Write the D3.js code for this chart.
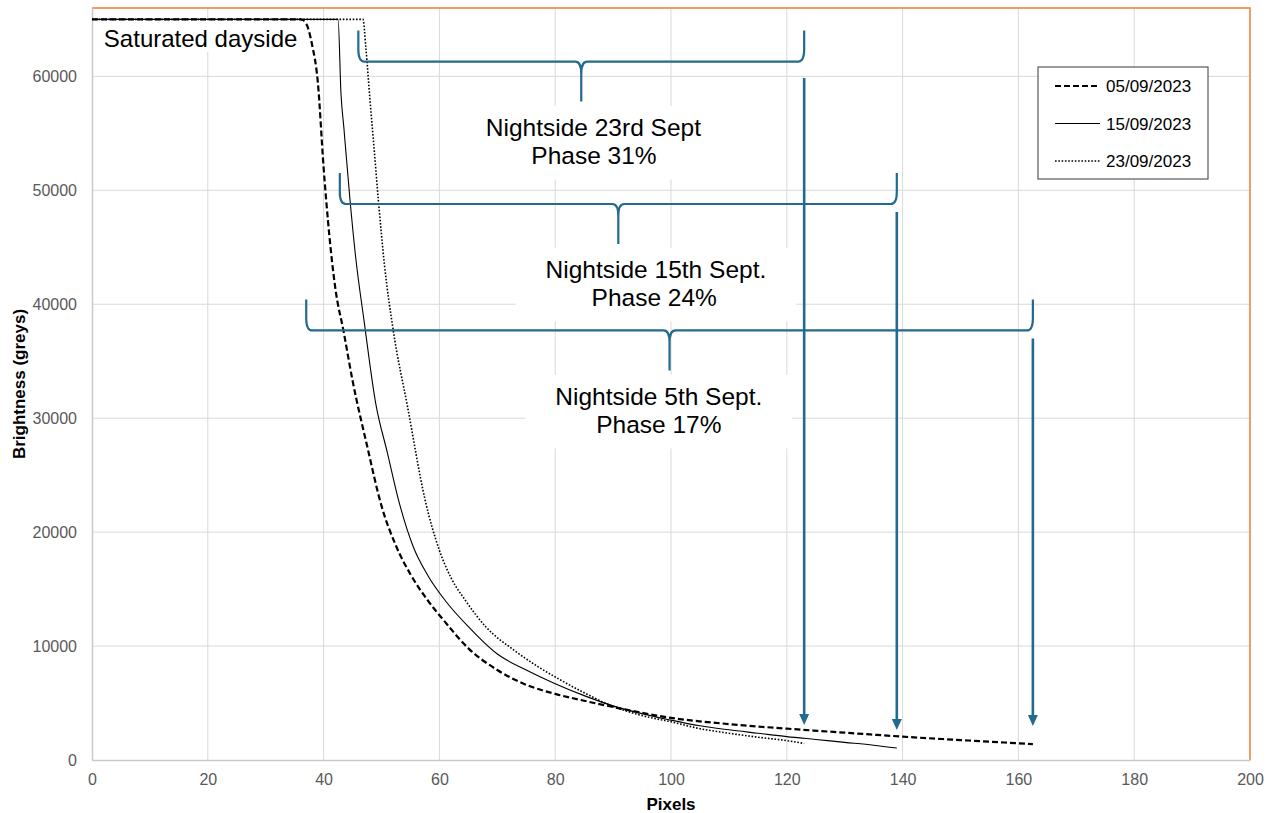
<!DOCTYPE html>
<html>
<head>
<meta charset="utf-8">
<script src="https://cdn.jsdelivr.net/npm/d3@7"></script>
<style>
  body { margin: 0; background: #fff; }
  svg { display: block; font-family: "Liberation Sans", Arial, sans-serif; }
</style>
</head>
<body>
<svg id="chart" width="1278" height="813"></svg>
<script>
// ---- Axis ticks ----
const xTicks = [0, 20, 40, 60, 80, 100, 120, 140, 160, 180, 200];
const yTicks = [0, 10000, 20000, 30000, 40000, 50000, 60000];

// ---- Series names (legend order) ----
const seriesNames = ["05/09/2023", "15/09/2023", "23/09/2023"];

// ---- Brightness profile, 5 Sept (pixels vs grey level) ----
const pixels0509 = [0, 36, 37, 38, 39, 40, 41, 42, 43.5, 45, 47.5, 50, 52.5, 55, 58, 61, 65, 70, 75, 80, 85, 90, 100, 110, 120, 130, 140, 150, 162.5];
const greys0509  = [65000, 65000, 64600, 62800, 59500, 52000, 46000, 41500, 37500, 33300, 27600, 22300, 18800, 16300, 14000, 12100, 9800, 7900, 6600, 5800, 5200, 4650, 3700, 3150, 2750, 2400, 2050, 1750, 1400];

// ---- Brightness profile, 15 Sept ----
const pixels1509 = [0, 42.5, 43, 43.5, 44.5, 45.5, 47, 49, 51, 53, 55.5, 58, 61, 65, 70, 75, 80, 85, 90, 100, 105, 110, 115, 120, 125, 130, 135, 139];
const greys1509  = [65000, 65000, 58500, 55500, 49500, 44300, 38500, 31300, 27000, 22700, 18700, 16200, 14000, 11700, 9300, 7900, 6700, 5650, 4750, 3500, 3000, 2650, 2350, 2050, 1800, 1550, 1300, 1050];

// ---- Brightness profile, 23 Sept ----
const pixels2309 = [0, 46.8, 47.3, 48, 48.6, 49.5, 50.5, 52, 54.5, 57.5, 60, 62, 64.5, 68, 73, 77, 81, 85, 90, 95, 100, 105, 110, 115, 120, 123];
const greys2309  = [65000, 65000, 62500, 58000, 54400, 48900, 43500, 37800, 31000, 22900, 18400, 16000, 14000, 11700, 9600, 8200, 7000, 5900, 4700, 3900, 3350, 2750, 2350, 2000, 1700, 1450];

// ---- Nightside annotations (same order as the series) ----
const braceFrom   = [37, 42.8, 46];          // end of the saturated plateau
const braceLevel  = [37700, 48800, 61300];   // grey level of the brace bar
const arrowTop    = [37000, 48100, 59850];
const arrowTip    = [2980, 2630, 3070];
const labelLines  = [["Nightside 5th Sept.", "Phase 17%"],
                     ["Nightside 15th Sept.", "Phase 24%"],
                     ["Nightside 23rd Sept", "Phase 31%"]];
const labelX      = [[97.9, 97.9], [97.4, 97.1], [86.6, 86.7]];
const labelY      = [31160, 42330, 54770];

const dayLabel = "Saturated dayside";
const dayLabelPos = [2.05, 62580];

// ---- Layout ----
const svg = d3.select("#chart");
const plot = { left: 92, right: 1250, top: 8, bottom: 760 };
const x = d3.scaleLinear().domain([0, 200]).range([plot.left, plot.right]);
const y = d3.scaleLinear().domain([0, 66000]).range([plot.bottom, plot.top]);

const blue = "#236a8e";
const tickColor = "#595959";

// gridlines
const grid = svg.append("g");
grid.selectAll("line.v").data(xTicks.filter(d => d > 0 && d < 200)).join("line")
  .attr("x1", d => x(d)).attr("x2", d => x(d))
  .attr("y1", plot.top).attr("y2", plot.bottom)
  .attr("stroke", "#d9d9d9").attr("stroke-width", 1);
grid.selectAll("line.h").data(yTicks.filter(d => d > 0)).join("line")
  .attr("x1", plot.left).attr("x2", plot.right)
  .attr("y1", d => y(d)).attr("y2", d => y(d))
  .attr("stroke", "#d9d9d9").attr("stroke-width", 1);

// plot-area frame (top and right in orange)
svg.append("path")
  .attr("d", `M${plot.left},${plot.top}H${plot.right}V${plot.bottom}`)
  .attr("fill", "none").attr("stroke", "#ED7D31").attr("stroke-width", 1.5);

// axes
const xAxis = svg.append("g").attr("transform", `translate(0,${plot.bottom})`)
  .call(d3.axisBottom(x).tickValues(xTicks).tickSize(0).tickPadding(14).tickFormat(d3.format("d")));
const yAxis = svg.append("g").attr("transform", `translate(${plot.left},0)`)
  .call(d3.axisLeft(y).tickValues(yTicks).tickSize(0).tickPadding(15).tickFormat(d3.format("d")));
[xAxis, yAxis].forEach(a => {
  a.select(".domain").attr("stroke", "#c9c9c9").attr("stroke-width", 1.5);
  a.selectAll("text").attr("fill", tickColor).attr("font-size", 16)
    .attr("font-family", "Liberation Sans, Arial, sans-serif");
});

// axis titles
svg.append("text").attr("x", (plot.left + plot.right) / 2).attr("y", 810)
  .attr("text-anchor", "middle").attr("font-size", 17).attr("font-weight", "bold")
  .text("Pixels");
svg.append("text")
  .attr("transform", `translate(25,${(plot.top + plot.bottom) / 2}) rotate(-90)`)
  .attr("text-anchor", "middle").attr("font-size", 17).attr("font-weight", "bold")
  .text("Brightness (greys)");

// series
const series = [
  { name: seriesNames[0], xs: pixels0509, ys: greys0509, width: 2.2, dash: "6,3" },
  { name: seriesNames[1], xs: pixels1509, ys: greys1509, width: 1.1, dash: null },
  { name: seriesNames[2], xs: pixels2309, ys: greys2309, width: 1.6, dash: "1.6,1.7" }
];
const line = d3.line().x(d => x(d[0])).y(d => y(d[1])).curve(d3.curveMonotoneX);
series.forEach(s => {
  svg.append("path")
    .datum(s.xs.map((v, i) => [v, s.ys[i]]))
    .attr("d", line)
    .attr("fill", "none").attr("stroke", "#000")
    .attr("stroke-width", s.width)
    .attr("stroke-dasharray", s.dash);
});

// "Saturated dayside" label on a white box
{
  const g = svg.append("g");
  const t = g.append("text").attr("x", x(dayLabelPos[0])).attr("y", y(dayLabelPos[1]))
    .attr("font-size", 24).attr("fill", "#000").text(dayLabel);
  const b = t.node().getBBox();
  g.insert("rect", "text").attr("x", b.x - 8).attr("y", b.y - 4)
    .attr("width", b.width + 14).attr("height", b.height + 4).attr("fill", "#fff");
}

// nightside labels on white boxes
labelLines.forEach((lines, i) => {
  const g = svg.append("g");
  const t = g.append("text").attr("font-size", 24.5).attr("fill", "#000").attr("text-anchor", "middle");
  lines.forEach((ln, j) => {
    t.append("tspan").attr("x", x(labelX[i][j])).attr("y", y(labelY[i]) + j * 28.5).text(ln);
  });
  const b = t.node().getBBox();
  g.insert("rect", "text").attr("x", b.x - 30).attr("y", b.y - 8)
    .attr("width", b.width + 60).attr("height", b.height + 18).attr("fill", "#fff");
});

// braces spanning the nightside extent
const ends = series.map(s => s.xs[s.xs.length - 1]);
braceLevel.forEach((lvl, i) => {
  const x0 = x(braceFrom[i]), x1 = x(ends[i]), xm = (x0 + x1) / 2, yb = y(lvl);
  const up = 31, down = 40, rx = 6, ry = 12;
  const d = `M${x0},${yb - up} L${x0},${yb - ry} Q${x0},${yb} ${x0 + rx},${yb} ` +
            `L${xm - rx},${yb} Q${xm},${yb} ${xm},${yb + ry} L${xm},${yb + down} ` +
            `M${xm},${yb + ry} Q${xm},${yb} ${xm + rx},${yb} ` +
            `L${x1 - rx},${yb} Q${x1},${yb} ${x1},${yb - ry} L${x1},${yb - up}`;
  svg.append("path").attr("d", d).attr("fill", "none")
    .attr("stroke", blue).attr("stroke-width", 2.2);
});

// arrows pointing to the end of each profile
ends.forEach((ex, i) => {
  const ax = x(ex), yTop = y(arrowTop[i]), yTip = y(arrowTip[i]);
  svg.append("line").attr("x1", ax).attr("x2", ax).attr("y1", yTop).attr("y2", yTip - 9)
    .attr("stroke", blue).attr("stroke-width", 2.6);
  svg.append("path").attr("d", `M${ax - 5},${yTip - 11} L${ax + 5},${yTip - 11} L${ax},${yTip} Z`)
    .attr("fill", blue);
});

// legend
const legend = svg.append("g").attr("transform", "translate(1038,67)");
legend.append("rect").attr("width", 170).attr("height", 112)
  .attr("fill", "#fff").attr("stroke", "#595959").attr("stroke-width", 1.2);
series.forEach((s, i) => {
  const ly = 19 + i * 37.5;
  legend.append("line").attr("x1", 17).attr("x2", s.dash === "6,3" ? 59 : 62)
    .attr("y1", ly).attr("y2", ly).attr("stroke", "#000")
    .attr("stroke-width", s.width).attr("stroke-dasharray", s.dash);
  legend.append("text").attr("x", 68).attr("y", ly + 6).attr("font-size", 17)
    .attr("fill", "#000").text(s.name);
});
</script>
</body>
</html>
